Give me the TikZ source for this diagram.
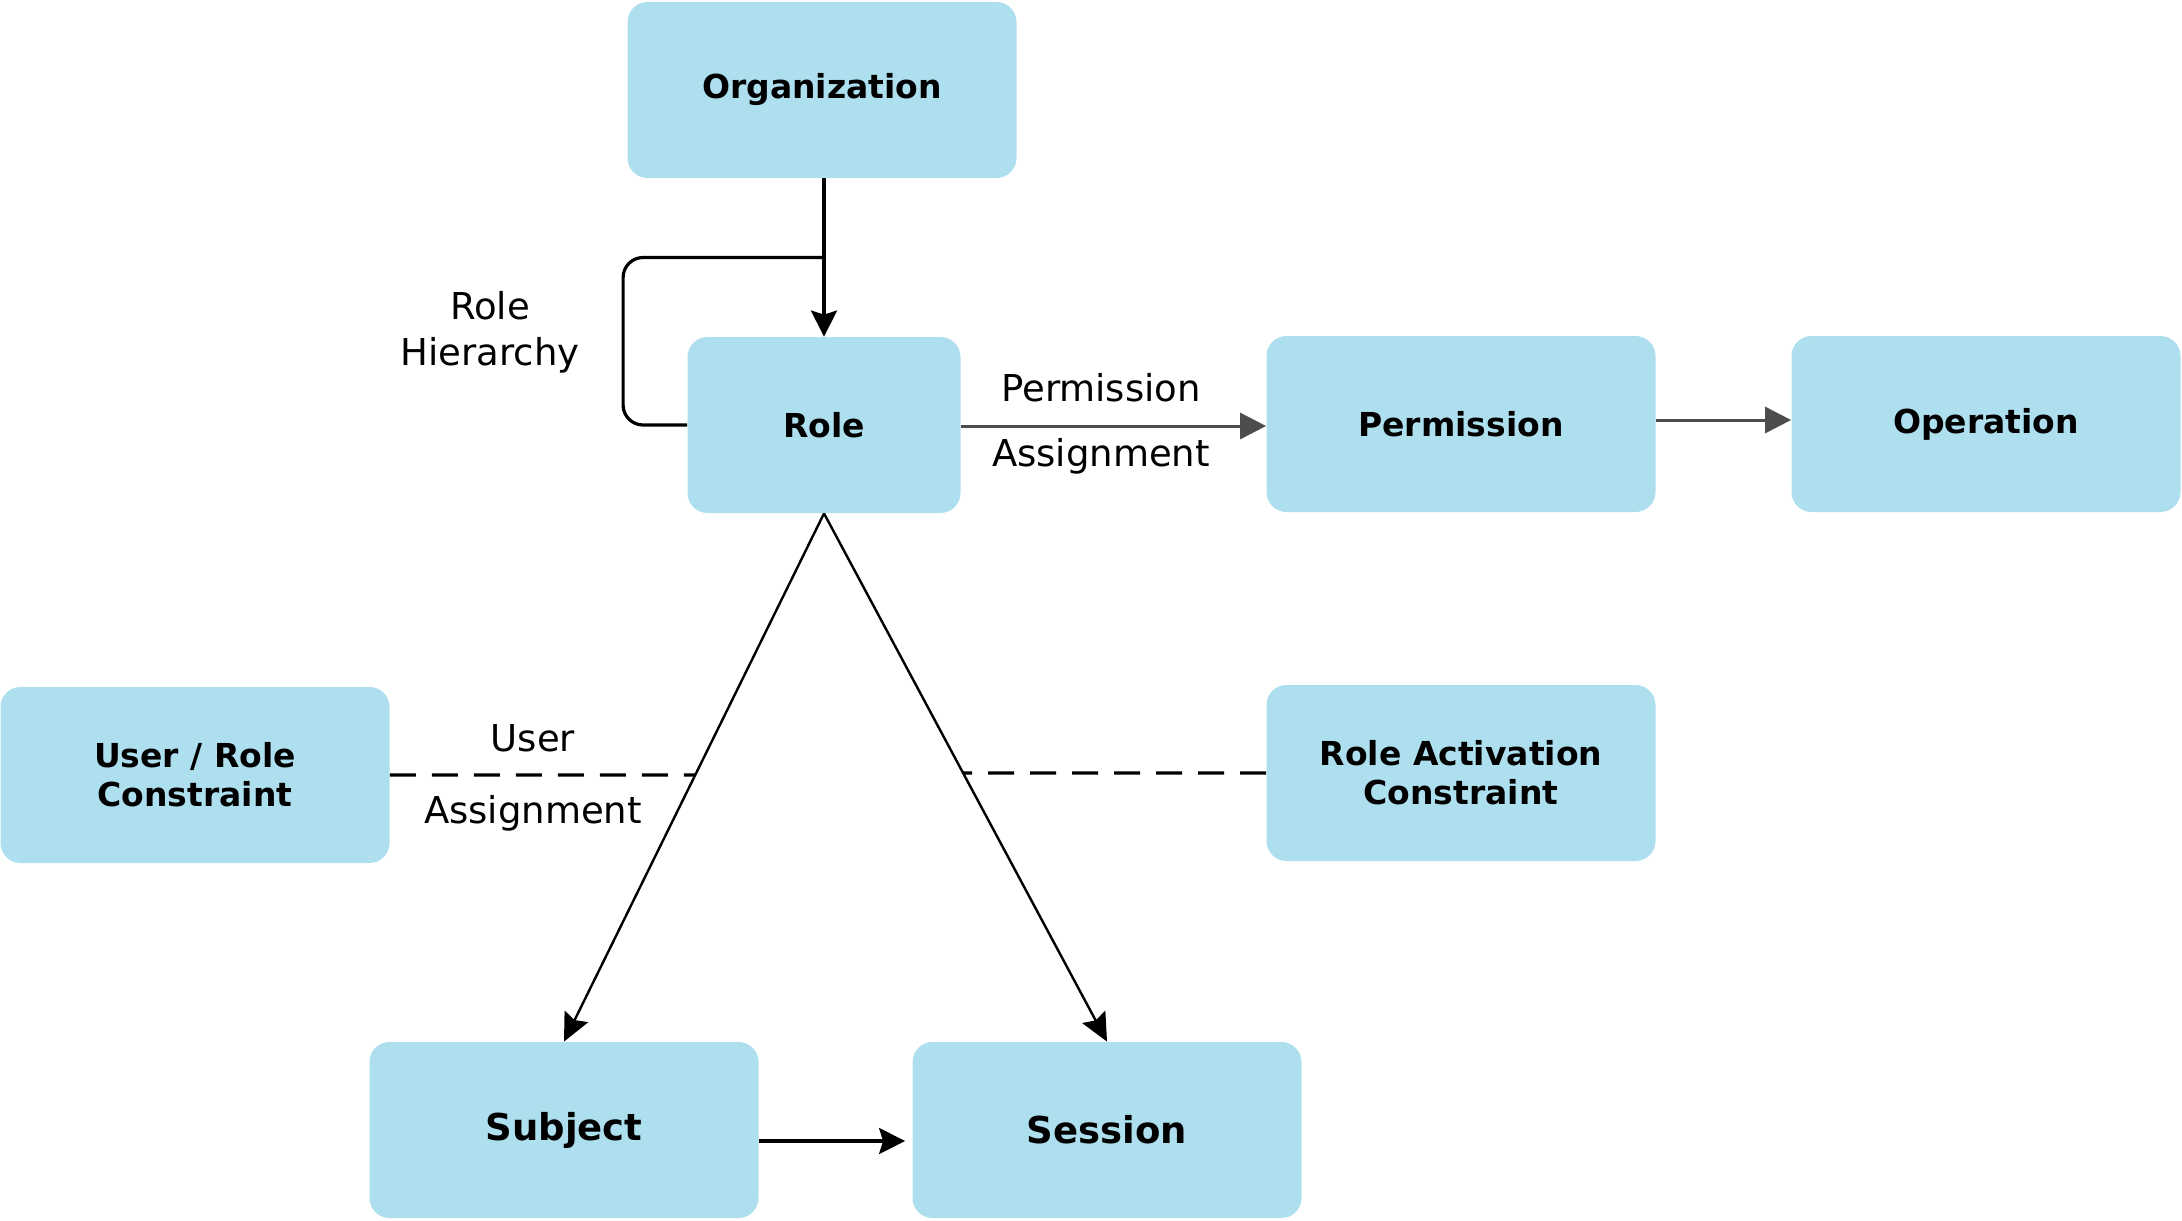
\documentclass[tikz,border=0pt]{standalone}
\usepackage{fontspec}
\setmainfont{DejaVu Sans}
\usetikzlibrary{arrows.meta,calc,intersections}
\definecolor{boxblue}{HTML}{ADDFEF}
\definecolor{arrgray}{HTML}{4D4D4D}
\begin{document}
\begin{tikzpicture}[x=0.5pt,y=-0.5pt,
  box/.style={fill=boxblue, rounded corners=10pt, minimum width=194.5pt, minimum height=88pt,
    inner sep=0pt, align=center, font=\fontsize{16.5}{19.5}\selectfont\bfseries},
  bigbox/.style={box, font=\fontsize{18.5}{22}\selectfont\bfseries},
  lbl/.style={inner sep=0pt, align=center, font=\fontsize{18.5}{23}\selectfont},
  blk/.style={line width=1.6pt, -{Stealth[length=13pt,width=13pt,inset=2pt]}},
  slant/.style={line width=1.2pt, -{Stealth[length=14pt,width=13pt,inset=2pt]}},
  garr/.style={draw=arrgray, line width=1.5pt, -{Triangle[length=13pt,width=13pt,fill=arrgray]}},
  dsh/.style={line width=1.7pt, dash pattern=on 13pt off 8pt}
]
\useasboundingbox (0,0) rectangle (2182,1220);

\node[box] (org) at (822,90) {Organization};
\node[box, minimum width=136.5pt] (role) at (824,425) {Role};
\node[box] (perm) at (1461,424) {Permission};
\node[box] (oper) at (1986,424) {Operation};
\node[box] (urc) at (195,775) {User / Role\\Constraint};
\node[box] (rac) at (1461,773) {Role Activation\\Constraint};
\node[bigbox] (subj) at (564,1130) {Subject};
\node[bigbox] (sess) at (1107,1130) {Session};

% Organization -> Role
\draw[blk] (org.south -| role.north) -- (role.north);
% Role hierarchy loop
\coordinate (rhj) at ($(org.south -| role.north)!0.5!(role.north)$);
\draw[line width=1.6pt, rounded corners=10pt] (role.west) -- ++(-64,0) |- (rhj);
\node[lbl] (rhl) at (490,332) {Role\\Hierarchy};

% Role -> Permission
\draw[garr] ([yshift=-0.5pt]role.east) -- ([yshift=-0.5pt]role.east -| perm.west);
\node[lbl] (pa1) at (1101,388) {Permission};
\node[lbl] (pa2) at (1101,456) {Assignment};

% Permission -> Operation
\draw[garr] ([yshift=2pt]perm.east) -- ([yshift=2pt]oper.west);

% Role -> Subject, Role -> Session
\draw[slant, name path=ls] (role.south) -- (subj.north);
\draw[slant, name path=lr] (role.south) -- (sess.north);

% Dashed constraint links
\path[name path=hu] (urc.east) -- ++(600,0);
\path[name intersections={of=ls and hu, by=ua}];
\draw[dsh] (urc.east) -- (ua);
\path[name path=hr] (rac.west) -- ++(-600,0);
\path[name intersections={of=lr and hr, by=ra}];
\draw[dsh] (rac.west) -- (ra);

\node[lbl] (ua1) at (533,738) {User};
\node[lbl] (ua2) at (533,813) {Assignment};

% Subject -> Session
\draw[blk] ([yshift=-5.5pt]subj.east) -- ([yshift=-5.5pt,xshift=-3.5pt]sess.west);
\end{tikzpicture}
\end{document}
